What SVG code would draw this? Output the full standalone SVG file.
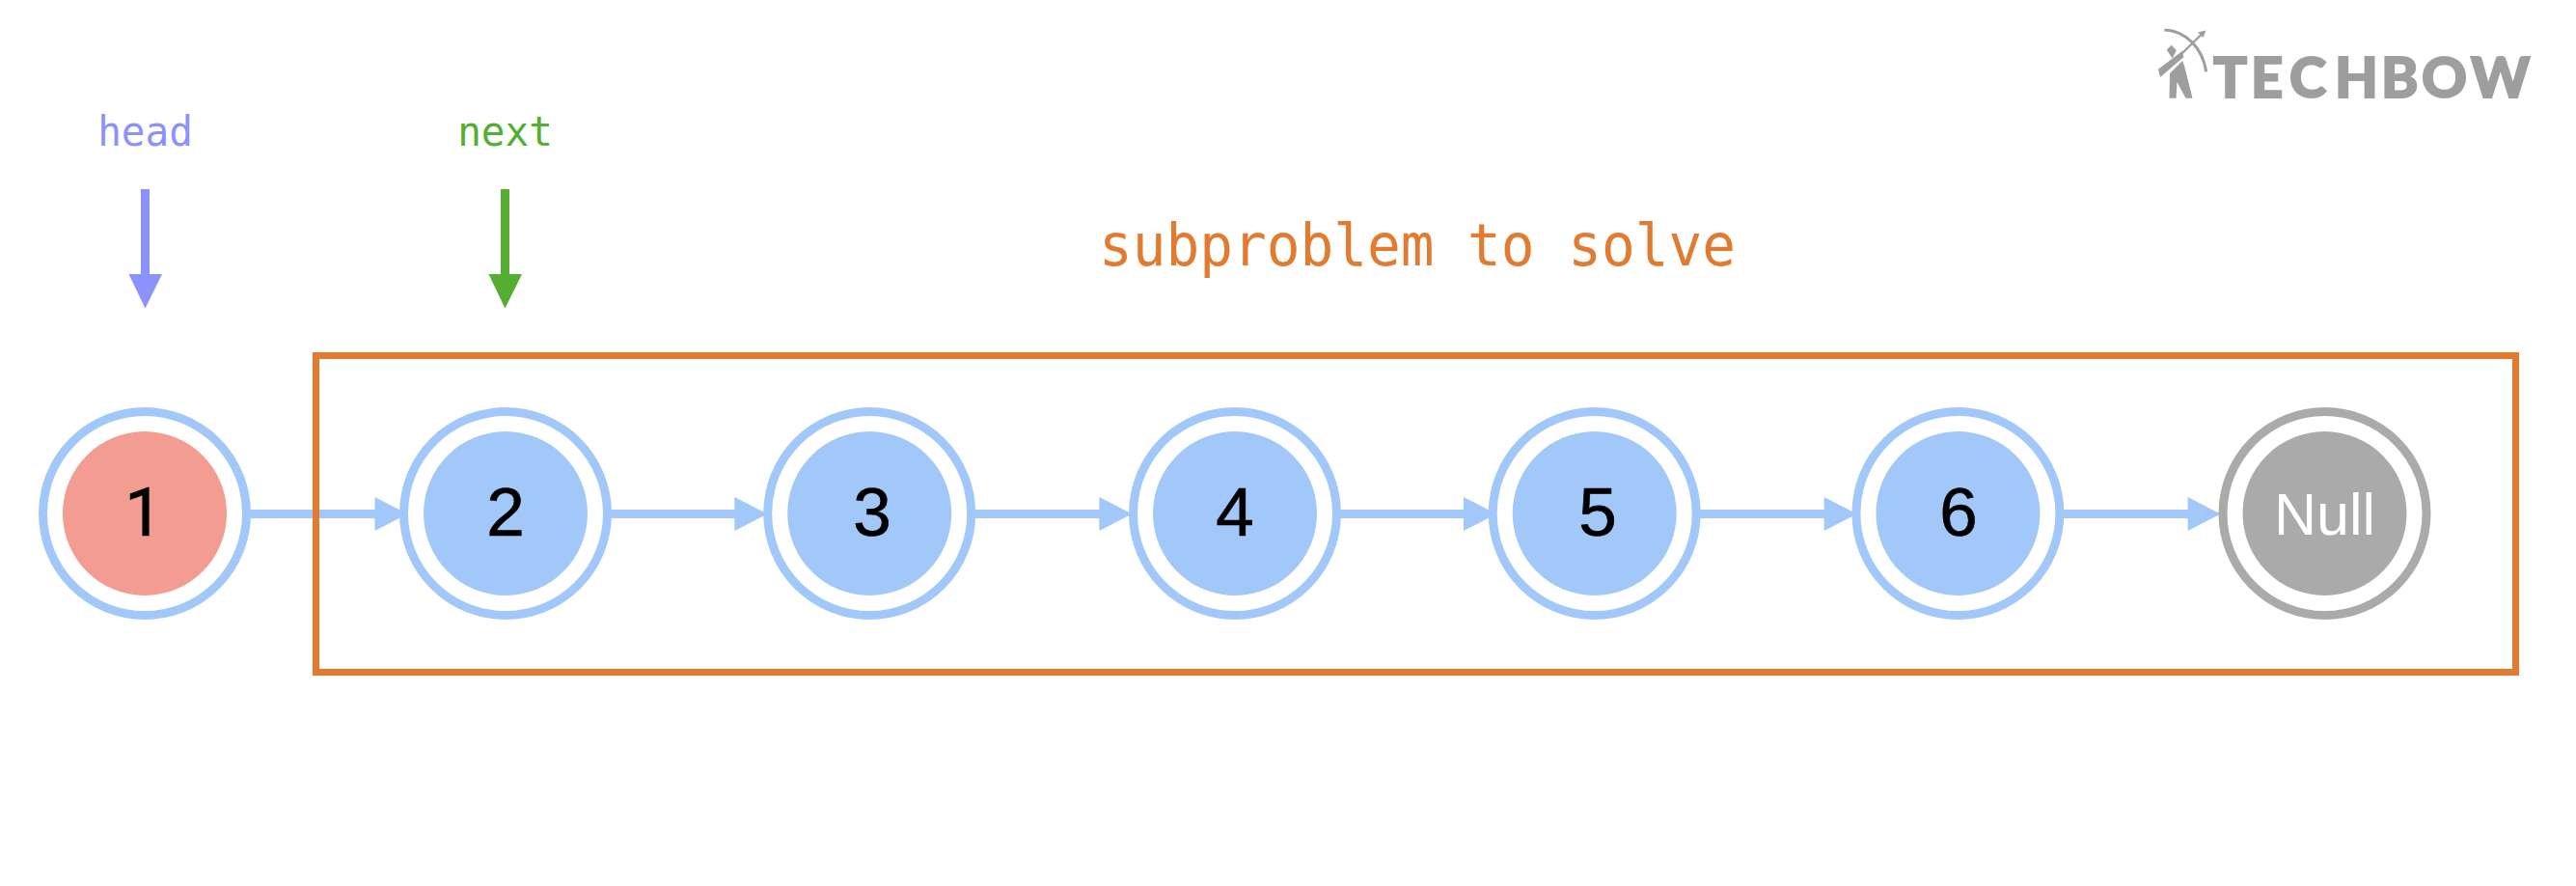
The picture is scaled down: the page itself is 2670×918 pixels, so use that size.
<svg xmlns="http://www.w3.org/2000/svg" width="2670" height="918" viewBox="0 0 2670 918">
<style>
.o{fill:#fff;stroke:#a2c8fa;stroke-width:9}
.i{fill:#a2c8fa}
.n{font-family:"Liberation Sans",Arial,sans-serif;font-size:71px;text-anchor:middle;fill:#000;stroke:#000;stroke-width:.7}
.m{font-family:"DejaVu Sans Mono","Liberation Mono",monospace;text-anchor:middle}
.c{stroke:#a2c8fa;stroke-width:9;fill:none}
</style>
<rect width="2670" height="918" fill="#fff"/>
<g id="connectors">
<path class="c" d="M259 532.5H392"/><polygon class="i" points="388.5,515 422.5,532.5 388.5,550"/>
<path class="c" d="M632 532.5H765"/><polygon class="i" points="761.3,515 795.3,532.5 761.3,550"/>
<path class="c" d="M1009 532.5H1143"/><polygon class="i" points="1139.4,515 1173.4,532.5 1139.4,550"/>
<path class="c" d="M1388 532.5H1521"/><polygon class="i" points="1517,515 1551,532.5 1517,550"/>
<path class="c" d="M1761 532.5H1894"/><polygon class="i" points="1890.7,515 1924.7,532.5 1890.7,550"/>
<path class="c" d="M2138 532.5H2271"/><polygon class="i" points="2267.6,515 2301.6,532.5 2267.6,550"/>
</g>
<g id="frame"><rect x="327.5" y="368.5" width="2280" height="328" fill="none" stroke="#e27a30" stroke-width="7"/></g>
<g id="node1"><circle class="o" cx="150" cy="532" r="105.5"/><circle cx="150" cy="532" r="85" fill="#f39c91"/><text class="n" x="149" y="555" style="font-family:Roboto,'Liberation Sans',sans-serif;font-size:70px">1</text></g>
<g id="node2"><circle class="o" cx="524" cy="532" r="105.5"/><circle class="i" cx="524" cy="532" r="85"/><text class="n" x="524" y="555">2</text></g>
<g id="node3"><circle class="o" cx="901.2" cy="532" r="105.5"/><circle class="i" cx="901.2" cy="532" r="85"/><text class="n" x="904" y="555">3</text></g>
<g id="node4"><circle class="o" cx="1280" cy="532" r="105.5"/><circle class="i" cx="1280" cy="532" r="85"/><text class="n" x="1280" y="555">4</text></g>
<g id="node5"><circle class="o" cx="1652.7" cy="532" r="105.5"/><circle class="i" cx="1652.7" cy="532" r="85"/><text class="n" x="1656" y="555">5</text></g>
<g id="node6"><circle class="o" cx="2029.4" cy="532" r="105.5"/><circle class="i" cx="2029.4" cy="532" r="85"/><text class="n" x="2030" y="555">6</text></g>
<g id="nodeNull"><circle cx="2409.5" cy="532" r="105.5" fill="#fff" stroke="#aaa" stroke-width="9"/><circle cx="2409.5" cy="532" r="85" fill="#aaa"/><text x="2409.5" y="554" font-family="'Liberation Sans',Arial,sans-serif" font-size="61" text-anchor="middle" fill="#fff">Null</text></g>
<g id="head"><text class="m" x="150.5" y="151" font-size="43" textLength="98.7" lengthAdjust="spacingAndGlyphs" fill="#8c92fc">head</text><rect x="146" y="196" width="9" height="90" fill="#8c92fc"/><polygon points="133.5,284 168,284 150.5,319.5" fill="#8c92fc"/></g>
<g id="next"><text class="m" x="523.5" y="151" font-size="43" textLength="98.7" lengthAdjust="spacingAndGlyphs" fill="#55ae31">next</text><rect x="519" y="196" width="9" height="90" fill="#55ae31"/><polygon points="506.5,284 541,284 523.5,319.5" fill="#55ae31"/></g>
<g id="label"><text class="m" x="1469" y="275" font-size="60" textLength="660" lengthAdjust="spacingAndGlyphs" fill="#e27a30">subproblem to solve</text></g>
<g id="logo" fill="#9e9e9e">
<text y="101" x="2294 2333 2373 2420 2468 2510 2561" font-family="Lato,'Open Sans',sans-serif" font-weight="900" font-size="58" stroke="#9e9e9e" stroke-width="2">TECHBOW</text>
<path d="M2243.5 31C2266 32 2283 50 2286.7 74.3" fill="none" stroke="#9e9e9e" stroke-width="3"/>
<path d="M2261 56L2282 35.5" stroke="#9e9e9e" stroke-width="2.4" fill="none"/>
<path d="M2278 33.5L2286.5 31.5L2283.5 39Z"/>
<path d="M2237 71.7L2261.7 53L2263.5 59L2239 80Z"/>
<path d="M2245.7 51.7L2250.7 46.7L2255.8 52.3L2251.7 60.5Z"/>
<path d="M2249 76L2262 63L2264 68L2272.5 101.7H2265.5L2256.5 85L2255.5 101.7H2248.5Z"/>
</g>
</svg>
